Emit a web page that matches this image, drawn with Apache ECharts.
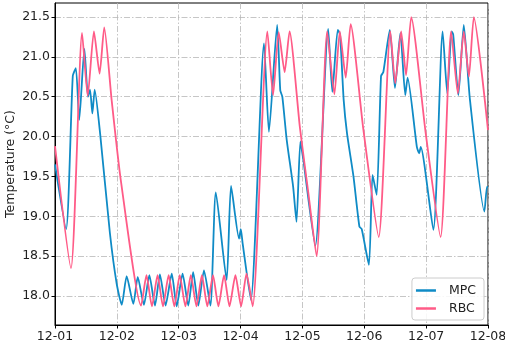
<!DOCTYPE html>
<html>
<head>
<meta charset="utf-8">
<script src="https://cdn.jsdelivr.net/npm/echarts@6/dist/echarts.min.js"></script>
<style>
html,body{margin:0;padding:0;background:#fff;}
#chart{width:505px;height:345px;}
</style>
</head>
<body>
<div id="chart"></div>
<script>
// hours since 12-01 00:00
var xTickLabels = ['12-01','12-02','12-03','12-04','12-05','12-06','12-07','12-08'];
var yTicks = [18.0,18.5,19.0,19.5,20.0,20.5,21.0,21.5];

var mpcHours = [0,4.3,6.9,8.1,9.4,11.4,12.8,13.6,14.5,15.4,17.5,21.3,23.9,
  25.9,27.8,30.4,32.1,34.5,36.6,38.8,40.7,42.9,45.3,47.2,49.5,51.7,53.6,55.6,57.8,60.3,
  62.4,66.6,68.3,71.4,72.1,72.8,76.0,81.1,83.0,86.2,87.4,88.2,89.9,92.4,93.7,95.2,96.3,101.0,
  106.0,107.6,109.7,110.6,112.0,113.3,115.8,118.1,119.0,121.8,123.2,124.8,126.5,127.4,129.9,131.9,134.0,135.9,136.8,
  140.4,141.3,141.9,146.8,150.4,152.2,153.9,154.5,156.5,158.6,161.0,166.6,167.6,168];
var mpcTemp = [19.65,18.84,20.76,20.86,20.21,21.10,20.50,20.59,20.29,20.59,20.04,18.79,18.16,
  17.89,18.25,17.90,18.24,17.89,18.26,17.88,18.27,17.88,18.28,17.87,18.28,17.88,18.30,17.88,18.32,17.88,
  19.30,18.20,19.38,18.72,18.84,18.66,17.95,21.17,20.06,21.40,20.58,20.50,19.96,19.37,18.93,19.94,19.72,18.63,
  21.35,20.56,21.34,21.28,20.46,20.04,19.50,18.87,18.84,18.39,19.52,19.27,20.76,20.81,21.34,20.61,21.30,20.52,20.74,
  19.87,19.79,19.87,18.83,21.32,20.54,21.32,21.28,20.52,21.40,20.46,19.06,19.37,19.37];

var rbcHours = [0,6.2,10.5,12.7,15.1,17.3,19.1,22.0,25.5,
  33.4,35.5,37.6,39.8,41.9,44.1,46.3,48.4,50.6,52.7,54.9,57.0,59.1,61.3,63.4,65.6,67.7,70.0,72.2,74.3,76.7,
  82.4,84.6,86.8,89.1,91.0,95.0,98.3,101.5,
  105.6,108.4,110.5,112.8,114.7,119.6,125.6,
  130.1,132.0,134.3,136.2,138.2,143.8,149.6,
  153.7,156.3,158.6,160.6,162.5,168];
var rbcTemp = [19.88,18.35,21.30,20.51,21.32,20.79,21.37,20.45,19.46,
  17.88,18.26,17.87,18.26,17.87,18.26,17.87,18.26,17.87,18.26,17.87,18.26,17.87,18.26,17.87,18.26,17.87,18.26,17.87,18.28,17.87,
  21.32,20.52,21.31,20.81,21.32,20.12,19.29,18.50,
  21.32,20.53,21.32,20.74,21.41,20.10,18.74,
  21.32,20.67,21.32,20.77,21.50,20.05,18.74,
  21.32,20.54,21.32,20.75,21.50,20.08];

function zip(a, b) {
  var out = [];
  for (var i = 0; i < a.length; i++) out.push([a[i], b[i]]);
  return out;
}

var chart = echarts.init(document.getElementById('chart'));
var font = 'DejaVu Sans';
var gridLine = { color: '#b8b8b8', width: 0.8, type: [6, 2, 1.5, 2] };

var option = {
  animation: false,
  grid: { left: 55, right: 17, top: 3, bottom: 20, outerBoundsMode: 'none', containLabel: false,
          show: true, borderColor: '#000', borderWidth: 1 },
  legend: {
    orient: 'vertical',
    right: 21,
    bottom: 25,
    backgroundColor: 'rgba(255,255,255,0.85)',
    borderColor: '#cccccc',
    borderWidth: 1,
    borderRadius: 3,
    padding: [6, 8, 5, 4],
    itemGap: 5,
    itemWidth: 20,
    itemHeight: 2.5,
    textStyle: { fontFamily: font, fontSize: 12.5, color: '#222', padding: [0, 0, 0, 8] },
    data: [
      { name: 'MPC', icon: 'rect' },
      { name: 'RBC', icon: 'rect' }
    ]
  },
  xAxis: {
    type: 'value',
    min: 0,
    max: 168,
    interval: 24,
    axisLine: { show: true, lineStyle: { color: '#000', width: 1 } },
    axisTick: { show: true, length: 3.5, lineStyle: { color: '#000' } },
    axisLabel: {
      margin: 5,
      fontFamily: font,
      fontSize: 12.5,
      color: '#222',
      formatter: function (v) { return xTickLabels[Math.round(v / 24)]; }
    },
    splitLine: { show: true, lineStyle: gridLine }
  },
  yAxis: {
    type: 'value',
    min: 17.636,
    max: 21.676,
    name: 'Temperature (°C)',
    nameLocation: 'middle',
    nameGap: 38,
    nameMoveOverlap: false,
    nameTextStyle: { fontFamily: font, fontSize: 12.5, color: '#222' },
    axisLine: { show: true, lineStyle: { color: '#000', width: 1 } },
    axisTick: { show: true, length: 3.5, lineStyle: { color: '#000' }, customValues: yTicks },
    axisLabel: {
      margin: 5,
      fontFamily: font,
      fontSize: 12.5,
      color: '#222',
      customValues: yTicks,
      formatter: function (v) { return v.toFixed(1); }
    },
    splitLine: { show: true, lineStyle: gridLine }
  },
  series: [
    {
      name: 'MPC',
      type: 'line',
      data: zip(mpcHours, mpcTemp),
      showSymbol: false,
      smooth: 0.2,
      itemStyle: { color: '#0f8bc6' },
      lineStyle: { color: '#0f8bc6', width: 1.8 }
    },
    {
      name: 'RBC',
      type: 'line',
      data: zip(rbcHours, rbcTemp),
      showSymbol: false,
      smooth: 0.2,
      itemStyle: { color: '#ff5b87' },
      lineStyle: { color: '#ff5b87', width: 1.8 }
    }
  ]
};

chart.setOption(option);
</script>
</body>
</html>
